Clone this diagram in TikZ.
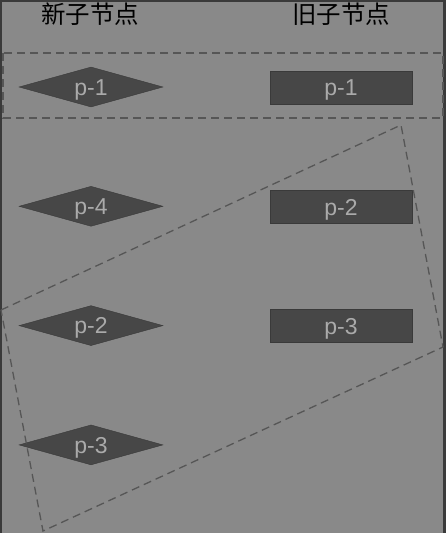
\documentclass[tikz,border=0pt]{standalone}
\usepackage{fontspec}
\setmainfont{Liberation Sans}
\newfontfamily\cjk{Noto Sans CJK SC}
\usepackage{tikz}
\usepackage{xcolor}
\newdimen\rowDist
\rowDist=119.3pt
\usetikzlibrary{shapes.geometric}
\definecolor{bg}{HTML}{898989}
\definecolor{boxfill}{HTML}{474747}
\definecolor{boxline}{HTML}{3A3A3A}
\definecolor{labelgrey}{HTML}{AAAAAA}
\definecolor{dashgrey}{HTML}{565656}

\begin{document}
\begin{tikzpicture}[
    x=1pt, y=-1pt,
    newnode/.style={%
      draw=boxline,
      fill=boxfill,
      diamond,
      aspect=3.6,
      inner sep=0pt,
      minimum width=144pt,
      minimum height=40pt,
      text=labelgrey,
      text height=16.5pt,
      text depth=0pt,
      font=\fontsize{23}{23}\selectfont,
    },
    oldnode/.style={%
      draw=boxline,
      fill=boxfill,
      rectangle,
      inner sep=0pt,
      minimum width=142pt,
      minimum height=33pt,
      text=labelgrey,
      text height=16.5pt,
      text depth=0pt,
      font=\fontsize{23}{23}\selectfont,
    },
    group/.style={%
      draw=dashgrey,
      dash pattern=on 8pt off 5pt,
      line width=1.3pt,
    },
    title/.style={%
      text=black,
      font=\cjk\fontsize{24.5}{24.5}\selectfont,
    },
  ]

    \useasboundingbox (0,0) rectangle (445,533);
    \fill [bg] (0,0) rectangle (445,533);
    \draw [boxline, line width=3.5pt] (0,533) -- (0,0) -- (445,0) -- (445,533);

    \node [title] (newTitle) at (90,14) {新子节点};
    \node [title] (oldTitle) at (341,14) {旧子节点};

    \node [newnode] (N1) at (91,87) {p-1};
    \path (N1) ++(-90:\rowDist) node [newnode] (N4) {p-4};
    \path (N4) ++(-90:\rowDist) node [newnode] (N2) {p-2};
    \path (N2) ++(-90:\rowDist) node [newnode] (N3) {p-3};

    \node [oldnode] (O1) at (341,87.5) {p-1};
    \path (O1) ++(-90:\rowDist) node [oldnode] (O2) {p-2};
    \path (O2) ++(-90:\rowDist) node [oldnode] (O3) {p-3};

    % dashed groups
    \draw [group] (3,53) rectangle (443,118);
    \coordinate (movedTL) at (1,310);
    \coordinate (movedTR) at (401,125);
    \coordinate (movedBR) at (443,347);
    \coordinate (movedBL) at (43,531);
    \draw [group] (movedTL) -- (movedTR) -- (movedBR) -- (movedBL) -- cycle;
\end{tikzpicture}
\end{document}
